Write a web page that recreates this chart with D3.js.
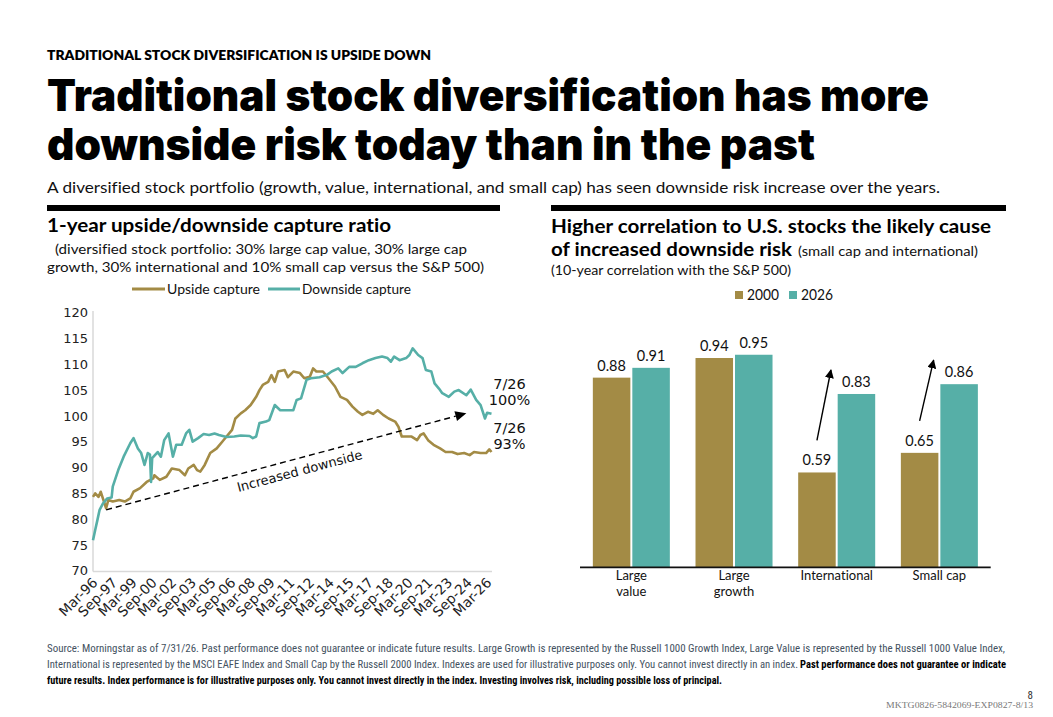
<!DOCTYPE html>
<html><head><meta charset="utf-8">
<script src="https://cdn.jsdelivr.net/npm/d3@7"></script>
<style>body{margin:0;background:#fff} text{font-variant-ligatures:none;font-feature-settings:"liga" 0,"clig" 0}</style>
</head><body>
<svg id="c" width="1053" height="717"></svg>
<script>
// ---------- DATA ----------
const seriesNames = ["Upside capture", "Downside capture"];
const upsideDates = ["1996-03","1996-05","1996-08","1996-10","1996-12","1997-03","1997-05","1997-09","1998-03","1998-08","1999-01","1999-04","1999-10","2000-04","2000-10","2000-11","2001-04","2001-10","2002-03","2002-10","2003-03","2003-06","2003-11","2004-02","2004-05","2004-09","2005-02","2005-08","2006-01","2006-05","2006-10","2007-01","2007-06","2007-10","2008-03","2008-08","2008-11","2009-02","2009-07","2009-10","2010-01","2010-04","2010-10","2011-01","2011-06","2011-12","2012-04","2012-09","2012-12","2013-03","2013-09","2014-02","2014-08","2015-01","2015-07","2015-12","2016-05","2016-09","2017-02","2017-07","2017-11","2018-04","2018-09","2019-03","2019-06","2019-09","2020-02","2020-06","2020-11","2021-02","2021-05","2021-09","2022-02","2022-08","2023-01","2023-07","2023-12","2024-06","2024-11","2025-03","2025-09","2026-02","2026-05","2026-07"];
const upsideValues = [84.3,85.0,84.3,85.3,84.0,82.1,83.7,83.4,83.7,83.4,84.0,85.3,86.0,87.2,87.9,88.5,87.6,88.2,89.8,89.5,88.5,89.8,90.5,89.5,89.2,90.5,92.8,93.7,95.0,96.0,97.3,99.5,100.5,101.1,102.1,103.7,105.0,106.0,106.6,107.9,106.6,108.6,108.9,107.5,108.6,108.3,107.3,107.6,109.2,108.6,108.6,107.3,105.7,103.7,103.1,101.8,100.8,100.2,100.8,100.4,101.1,100.2,99.5,98.9,97.9,96.0,96.0,96.0,95.3,96.3,96.6,95.3,94.4,93.7,93.0,93.0,92.6,92.8,92.4,93.0,92.8,92.8,93.5,93.0];
const downsideDates = ["1996-03","1996-05","1996-07","1996-09","1996-12","1997-04","1997-08","1997-09","1998-02","1998-07","1999-01","1999-04","1999-08","1999-11","2000-02","2000-05","2000-07","2000-08","2000-09","2001-02","2001-05","2001-08","2001-12","2002-04","2002-07","2002-12","2003-04","2003-07","2003-10","2004-03","2004-08","2005-01","2005-06","2005-10","2006-05","2006-12","2007-06","2008-02","2008-05","2008-08","2008-11","2009-05","2009-08","2010-01","2010-06","2011-06","2011-09","2012-01","2012-06","2012-10","2013-06","2014-01","2014-05","2014-11","2015-03","2015-09","2016-03","2016-09","2017-03","2017-09","2018-03","2018-08","2018-11","2019-02","2019-07","2020-01","2020-04","2020-07","2020-12","2021-04","2021-07","2021-12","2022-03","2022-07","2022-10","2023-04","2023-09","2024-01","2024-08","2024-12","2025-05","2025-09","2026-01","2026-03","2026-07"];
const downsideValues = [75.9,77.9,79.8,81.8,83.0,84.0,84.2,86.3,89.5,92.1,94.7,95.7,93.7,92.8,90.5,92.8,92.5,87.2,91.8,93.0,92.1,95.3,96.6,92.1,94.4,94.4,96.6,97.3,95.0,95.7,96.5,96.3,96.6,96.3,95.9,96.0,96.2,96.1,95.7,96.0,98.6,98.9,99.2,102.1,101.1,101.1,103.1,103.4,107.0,107.3,107.5,108.0,108.6,109.2,108.3,109.5,109.5,110.2,110.8,111.2,111.5,111.2,110.5,111.5,110.8,111.2,111.8,113.1,111.8,111.2,108.9,108.6,106.3,105.3,104.4,103.7,104.7,105.0,104.0,105.1,103.1,102.1,99.5,100.6,100.4];
const xTickLabels = ["Mar-96","Sep-97","Mar-99","Sep-00","Mar-02","Sep-03","Mar-05","Sep-06","Mar-08","Sep-09","Mar-11","Sep-12","Mar-14","Sep-15","Mar-17","Sep-18","Mar-20","Sep-21","Mar-23","Sep-24","Mar-26"];
const yTickValues = [70,75,80,85,90,95,100,105,110,115,120];
const arrowFrom = ["1997-03", 81.8];
const arrowTo = ["2024-08", 100.5];
const endLabels = [["7/26","100%"],["7/26","93%"]];

const barCategories = [["Large","value"],["Large","growth"],["International"],["Small cap"]];
const barSeries = ["2000","2026"];
const corr2000 = [0.88, 0.94, 0.59, 0.65];
const corr2026 = [0.91, 0.95, 0.83, 0.86];

// ---------- STYLE ----------
const GOLD = "#A38B45", TEAL = "#56AFA7";
const BODY = "Lato, 'Open Sans', sans-serif";
const HEAVY = "Inter, 'Open Sans', Lato, sans-serif";
const CHART = "'DejaVu Sans', Verdana, sans-serif";
const svg = d3.select("#c");

function txt(x, y, s, opt) {
  const t = svg.append("text").attr("x", x).attr("y", y).text(s)
    .attr("font-family", opt.family || BODY)
    .attr("font-size", opt.size)
    .attr("font-weight", opt.weight || 400)
    .attr("fill", opt.fill || "#000");
  if (opt.len) t.attr("textLength", opt.len).attr("lengthAdjust", "spacingAndGlyphs");
  if (opt.anchor) t.attr("text-anchor", opt.anchor);
  return t;
}

// ---------- HEADER ----------
txt(47, 60, "TRADITIONAL STOCK DIVERSIFICATION IS UPSIDE DOWN", {size: 13.5, weight: 800, len: 384});
txt(47, 111, "Traditional stock diversification has more", {family: HEAVY, size: 44, weight: 900, len: 882});
txt(47, 160, "downside risk today than in the past", {family: HEAVY, size: 44, weight: 900, len: 768});
txt(47, 193, "A diversified stock portfolio (growth, value, international, and small cap) has seen downside risk increase over the years.", {size: 15.5, len: 893, fill: "#111"});
svg.append("rect").attr("x", 47).attr("y", 205).attr("width", 453).attr("height", 6).attr("fill", "#000");
svg.append("rect").attr("x", 551).attr("y", 205).attr("width", 455).attr("height", 6).attr("fill", "#000");

// ---------- LEFT CHART ----------
txt(47, 232, "1-year upside/downside capture ratio", {size: 18.5, weight: 700, len: 344});
txt(55, 254, "(diversified stock portfolio: 30% large cap value, 30% large cap", {size: 14, len: 412, fill: "#111"});
txt(47, 272, "growth, 30% international and 10% small cap versus the S&P 500)", {size: 14, len: 437, fill: "#111"});

// legend
const legItems = [{name: seriesNames[0], c: GOLD, x: 132, w: 33, tl: 93}, {name: seriesNames[1], c: TEAL, x: 268, w: 32, tl: 109}];
legItems.forEach(d => {
  svg.append("line").attr("x1", d.x).attr("x2", d.x + d.w).attr("y1", 289).attr("y2", 289).attr("stroke", d.c).attr("stroke-width", 3);
  txt(d.x + d.w + 2, 293.5, d.name, {size: 14, len: d.tl, fill: "#111"});
});

const parseM = d3.timeParse("%Y-%m");
const parseTick = d3.timeParse("%b-%y");
const xL = d3.scaleTime().domain([parseM("1996-03"), parseM("2026-07")]).range([93, 491.5]);
const yL = d3.scaleLinear().domain([70, 120]).range([570.7, 312.7]);

// axis lines
svg.append("line").attr("x1", 93).attr("x2", 93).attr("y1", 311).attr("y2", 571.5).attr("stroke", "#d9d9d9").attr("stroke-width", 1.5);
svg.append("line").attr("x1", 93).attr("x2", 492).attr("y1", 571.5).attr("y2", 571.5).attr("stroke", "#d9d9d9").attr("stroke-width", 1.5);

const yAxis = d3.axisLeft(yL).tickValues(yTickValues).tickSize(0).tickPadding(5);
const gy = svg.append("g").attr("transform", "translate(88,0)").call(yAxis);
gy.select(".domain").remove();
gy.selectAll("text").attr("font-family", CHART).attr("font-size", 13).attr("fill", "#222").attr("x", 0).attr("text-anchor", "end");

const gx = svg.append("g");
xTickLabels.forEach(lbl => {
  const px = xL(parseTick(lbl));
  gx.append("text").attr("transform", `translate(${px + 2},${580}) rotate(-45)`)
    .attr("text-anchor", "end").attr("dy", "0.35em")
    .attr("font-family", CHART).attr("font-size", 13.8).attr("fill", "#222").text(lbl);
});

const line = d3.line().x(d => xL(d.date)).y(d => yL(d.v));
const upData = upsideDates.map((d, i) => ({date: parseM(d), v: upsideValues[i]}));
const downData = downsideDates.map((d, i) => ({date: parseM(d), v: downsideValues[i]}));
svg.append("path").datum(upData).attr("d", line).attr("fill", "none").attr("stroke", GOLD).attr("stroke-width", 2.6).attr("stroke-linejoin", "round");
svg.append("path").datum(downData).attr("d", line).attr("fill", "none").attr("stroke", TEAL).attr("stroke-width", 2.6).attr("stroke-linejoin", "round");

// dashed arrow
const ax1 = xL(parseM(arrowFrom[0])), ay1 = yL(arrowFrom[1]);
const ax2 = xL(parseM(arrowTo[0])), ay2 = yL(arrowTo[1]);
const ang = Math.atan2(ay2 - ay1, ax2 - ax1);
const headL = 11, headW = 5;
const bx = ax2 - headL * Math.cos(ang), by = ay2 - headL * Math.sin(ang);
svg.append("line").attr("x1", ax1).attr("y1", ay1).attr("x2", bx).attr("y2", by)
  .attr("stroke", "#000").attr("stroke-width", 1.4).attr("stroke-dasharray", "6,4");
const px = -Math.sin(ang), py = Math.cos(ang);
svg.append("path").attr("d", `M${ax2},${ay2} L${bx + px * headW},${by + py * headW} L${bx - px * headW},${by - py * headW} Z`).attr("fill", "#000");
const tT = 0.355;
const tx = ax1 + (ax2 - ax1) * tT + px * 17, ty = ay1 + (ay2 - ay1) * tT + py * 17;
svg.append("text").attr("transform", `translate(${tx},${ty}) rotate(${ang * 180 / Math.PI})`)
  .attr("font-family", CHART).attr("font-size", 13).attr("fill", "#111").text("Increased downside");

// end labels
const lastDown = downData[downData.length - 1], lastUp = upData[upData.length - 1];
const lx = xL(lastDown.date) + 18;
txt(lx, yL(lastDown.v) - 25, endLabels[0][0], {family: CHART, size: 14.5, anchor: "middle", fill: "#111"});
txt(lx, yL(lastDown.v) - 8.5, endLabels[0][1], {family: CHART, size: 14.5, anchor: "middle", fill: "#111"});
txt(lx, yL(lastUp.v) - 19, endLabels[1][0], {family: CHART, size: 14.5, anchor: "middle", fill: "#111"});
txt(lx, yL(lastUp.v) - 3, endLabels[1][1], {family: CHART, size: 14.5, anchor: "middle", fill: "#111"});

// ---------- RIGHT CHART ----------
txt(551, 233, "Higher correlation to U.S. stocks the likely cause", {size: 18, weight: 700, len: 440});
txt(551, 256, "of increased downside risk", {size: 18, weight: 700, len: 241});
txt(798, 256, "(small cap and international)", {size: 14, len: 180, fill: "#111"});
txt(551, 275, "(10-year correlation with the S&P 500)", {size: 14, len: 240, fill: "#111"});

const legR = [{name: barSeries[0], c: GOLD, x: 735}, {name: barSeries[1], c: TEAL, x: 789}];
legR.forEach(d => {
  svg.append("rect").attr("x", d.x).attr("y", 291).attr("width", 8).attr("height", 8).attr("fill", d.c);
  txt(d.x + 12, 299.5, d.name, {size: 14.5, len: 32, fill: "#111"});
});

const catKeys = barCategories.map(c => c.join(" "));
const x0 = d3.scaleBand().domain(catKeys).range([580, 990.7]).paddingInner(0.25).paddingOuter(0.125);
const x1 = d3.scaleBand().domain(barSeries).range([0, x0.bandwidth()]).paddingInner(0.05);
const yR = d3.scaleLinear().domain([0.3, 1.0]).range([567.3, 338.4]);
const barData = catKeys.map((k, i) => ({k, lines: barCategories[i], vals: [corr2000[i], corr2026[i]]}));
const gB = svg.append("g");
barData.forEach(d => {
  d.vals.forEach((v, j) => {
    const bx0 = x0(d.k) + x1(barSeries[j]);
    gB.append("rect").attr("x", bx0).attr("y", yR(v)).attr("width", x1.bandwidth()).attr("height", yR(0.3) - yR(v))
      .attr("fill", j === 0 ? GOLD : TEAL);
    gB.append("text").attr("x", bx0 + x1.bandwidth() / 2).attr("y", yR(v) - 7).attr("text-anchor", "middle")
      .attr("font-family", BODY).attr("font-size", 14.5).attr("fill", "#111").text(v.toFixed(2));
  });
  const cx = x0(d.k) + x0.bandwidth() / 2;
  d.lines.forEach((l, li) => {
    txt(cx, 580 + li * 15.5, l, {size: 13, anchor: "middle", fill: "#111"});
  });
});
svg.append("line").attr("x1", 580).attr("x2", 990.7).attr("y1", yR(0.3)).attr("y2", yR(0.3)).attr("stroke", "#111").attr("stroke-width", 1.8);

// increase arrows (International and Small cap)
svg.append("defs").append("marker").attr("id", "ah").attr("viewBox", "0 0 10 10").attr("refX", 9).attr("refY", 5)
  .attr("markerWidth", 9).attr("markerHeight", 9).attr("markerUnits", "userSpaceOnUse").attr("orient", "auto")
  .append("path").attr("d", "M0,0 L10,5 L0,10 Z").attr("fill", "#000");
[2, 3].forEach(i => {
  const gcx = x0(catKeys[i]) + x1(barSeries[0]) + x1.bandwidth() / 2;
  svg.append("line").attr("x1", gcx).attr("y1", yR(corr2000[i]) - 32)
    .attr("x2", gcx + 14).attr("y2", yR(corr2026[i]) - 24)
    .attr("stroke", "#000").attr("stroke-width", 1.4).attr("marker-end", "url(#ah)");
});

// ---------- FOOTER ----------
const FOOT = "'Liberation Sans Narrow', 'Arial Narrow', 'Roboto Condensed', sans-serif";
const FG = "#44525f";
txt(47, 652, "Source: Morningstar as of 7/31/26. Past performance does not guarantee or indicate future results. Large Growth is represented by the Russell 1000 Growth Index, Large Value is represented by the Russell 1000 Value Index,", {family: FOOT, size: 10.5, len: 958, fill: FG});
txt(47, 668, "International is represented by the MSCI EAFE Index and Small Cap by the Russell 2000 Index. Indexes are used for illustrative purposes only. You cannot invest directly in an index.", {family: FOOT, size: 10.5, len: 751, fill: FG});
txt(800, 668, "Past performance does not guarantee or indicate", {family: FOOT, size: 10.5, weight: 700, len: 206, fill: "#000"});
txt(47, 684, "future results. Index performance is for illustrative purposes only. You cannot invest directly in the index. Investing involves risk, including possible loss of principal.", {family: FOOT, size: 10.5, weight: 700, len: 675, fill: "#000"});
txt(1033, 699, "8", {family: FOOT, size: 11, anchor: "end", fill: "#333"});
txt(1033, 708, "MKTG0826-5842069-EXP0827-8/13", {family: "'Liberation Serif', serif", size: 8, anchor: "end", len: 147, fill: "#777"});
</script>
</body></html>
